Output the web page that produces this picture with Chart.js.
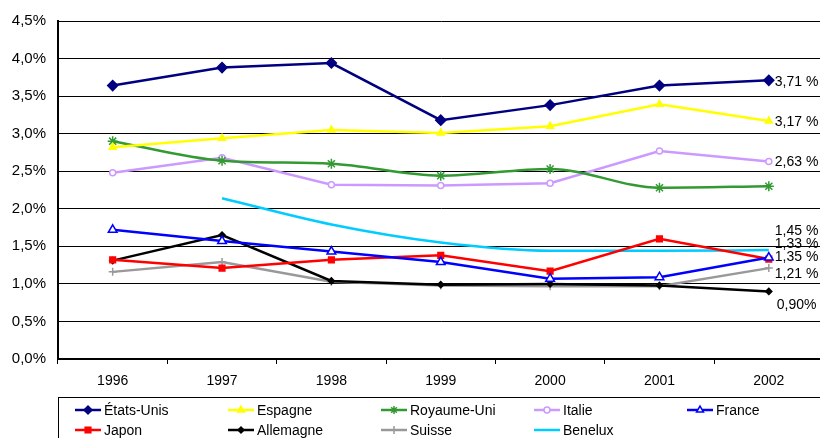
<!DOCTYPE html>
<html>
<head>
<meta charset="utf-8">
<title>Chart</title>
<script src="https://cdn.jsdelivr.net/npm/chart.js@4/dist/chart.umd.min.js"></script>
<style>
body{margin:0;background:#fff;overflow:hidden}
#wrap{width:820px;height:438px;overflow:hidden;position:relative}
</style>
</head>
<body>
<div id="wrap"><canvas id="chart" width="830" height="438" style="width:830px;height:438px"></canvas></div>
<script>
// data
var years = ["1996","1997","1998","1999","2000","2001","2002"]
var names = ["\u00c9tats-Unis","Espagne","Royaume-Uni","Italie","France","Japon","Allemagne","Suisse","Benelux"]
var etatsUnis  = [3.64, 3.88, 3.94, 3.18, 3.38, 3.64, 3.71]
var espagne    = [2.82, 2.94, 3.05, 3.01, 3.10, 3.39, 3.17]
var royaumeUni = [2.90, 2.64, 2.60, 2.44, 2.53, 2.28, 2.30]
var italie     = [2.48, 2.68, 2.32, 2.31, 2.34, 2.77, 2.63]
var france     = [1.72, 1.57, 1.43, 1.29, 1.07, 1.09, 1.35]
var japon      = [1.32, 1.21, 1.32, 1.38, 1.17, 1.60, 1.33]
var allemagne  = [1.31, 1.65, 1.04, 0.99, 1.00, 0.98, 0.90]
var suisse     = [1.16, 1.29, 1.03, 0.98, 0.97, 0.97, 1.21]
var benelux    = [null, 2.14, 1.79, 1.55, 1.44, 1.44, 1.45]
var endLabels  = ["3,71 %","3,17 %","","2,63 %","1,35 %","1,33 %","0,90%","1,21 %","1,45 %"]
var yTicks = [0,0.5,1,1.5,2,2.5,3,3.5,4,4.5]

var FONT = '"Liberation Sans", Arial, sans-serif'
// per-series label nudges (px)
var labelDy = [2, 1, 0, 1, 0, -15, 14, 6, -19]
var labelDx = [6, 6, 6, 6, 6, 6, 8, 6, 6]

function series(label, data, color, style, radius, bg, extra){
  var d = {
    label: label, data: data,
    borderColor: color, backgroundColor: bg,
    pointBackgroundColor: bg, pointBorderColor: color,
    pointStyle: style, pointRadius: radius, pointHoverRadius: radius,
    pointBorderWidth: 1.5, borderWidth: 2.5, tension: 0
  }
  for(var k in extra){ d[k] = extra[k] }
  return d
}

var datasets = [
  series(names[0], etatsUnis, "#000080", "rectRot", 5, "#000080"),
  series(names[1], espagne, "#FFFF00", "triangle", 4, "#FFFF00"),
  series(names[2], royaumeUni, "#339933", "star", 5, "#339933", {cubicInterpolationMode: "monotone"}),
  series(names[3], italie, "#CC99FF", "circle", 3, "#FFFFFF"),
  series(names[4], france, "#0000FF", "triangle", 5, "#FFFFFF"),
  series(names[5], japon, "#FF0000", "rect", 4, "#FF0000"),
  series(names[6], allemagne, "#000000", "rectRot", 3, "#000000"),
  series(names[7], suisse, "#999999", "cross", 4, "#999999"),
  series(names[8], benelux, "#00CCFF", false, 0, "#00CCFF", {cubicInterpolationMode: "monotone"})
]

var endLabelPlugin = {
  id: "endLabels",
  afterDatasetsDraw: function(chart){
    var ctx = chart.ctx
    ctx.save()
    ctx.font = "14px " + FONT
    ctx.fillStyle = "#000"
    ctx.textAlign = "left"
    ctx.textBaseline = "middle"
    chart.data.datasets.forEach(function(ds, i){
      if(!endLabels[i]) return
      var meta = chart.getDatasetMeta(i)
      var pt = meta.data[meta.data.length-1]
      ctx.fillText(endLabels[i], pt.x + labelDx[i], pt.y + labelDy[i])
    })
    ctx.restore()
  }
}

var legendPlugin = {
  id: "boxLegend",
  afterDraw: function(chart){
    var ctx = chart.ctx
    ctx.save()
    ctx.strokeStyle = "#000"
    ctx.lineWidth = 1
    ctx.strokeRect(58.5, 397.5, 800, 60)
    ctx.font = "14px " + FONT
    ctx.textBaseline = "middle"
    ctx.textAlign = "left"
    chart.data.datasets.forEach(function(ds, i){
      var col = i % 5, row = Math.floor(i / 5)
      var x = 75 + col * 153, y = 410 + row * 20
      ctx.strokeStyle = ds.borderColor
      ctx.lineWidth = 2.5
      ctx.beginPath(); ctx.moveTo(x, y); ctx.lineTo(x + 26, y); ctx.stroke()
      if(ds.pointStyle && Chart.helpers && Chart.helpers.drawPoint){
        ctx.fillStyle = ds.pointBackgroundColor
        ctx.strokeStyle = ds.pointBorderColor
        ctx.lineWidth = 1.5
        Chart.helpers.drawPoint(ctx, {pointStyle: ds.pointStyle, radius: Math.min(ds.pointRadius, 4), borderWidth: 1.5, rotation: 0}, x + 13, y)
      }
      ctx.fillStyle = "#000"
      ctx.fillText(ds.label, x + 29, y + 1)
    })
    ctx.restore()
  }
}

new Chart(document.getElementById("chart").getContext("2d"), {
  type: "line",
  data: { labels: years, datasets: datasets },
  options: {
    responsive: false,
    animation: false,
    devicePixelRatio: 1,
    layout: { padding: { left: 0, right: 5, top: 16, bottom: 0 } },
    plugins: { legend: { display: false }, tooltip: { enabled: false } },
    scales: {
      x: {
        offset: true,
        grid: { drawOnChartArea: false, drawTicks: true, tickLength: 5, color: "#000", offset: true },
        border: { color: "#000", width: 1.5 },
        ticks: { color: "#000", font: { family: FONT, size: 14 }, padding: 9, maxRotation: 0 },
        afterFit: function(s){ s.height = 79 }
      },
      y: {
        min: 0, max: 4.5,
        afterBuildTicks: function(s){ s.ticks = yTicks.map(function(v){ return {value: v} }) },
        grid: { color: "#000", lineWidth: 1, drawTicks: false },
        border: { color: "#000", width: 2 },
        ticks: {
          color: "#000", font: { family: FONT, size: 15 }, padding: 12,
          callback: function(v){ return v.toFixed(1).replace(".", ",") + "%" }
        },
        afterFit: function(s){ s.width = 58 }
      }
    }
  },
  plugins: [endLabelPlugin, legendPlugin]
})
</script>
</body>
</html>
